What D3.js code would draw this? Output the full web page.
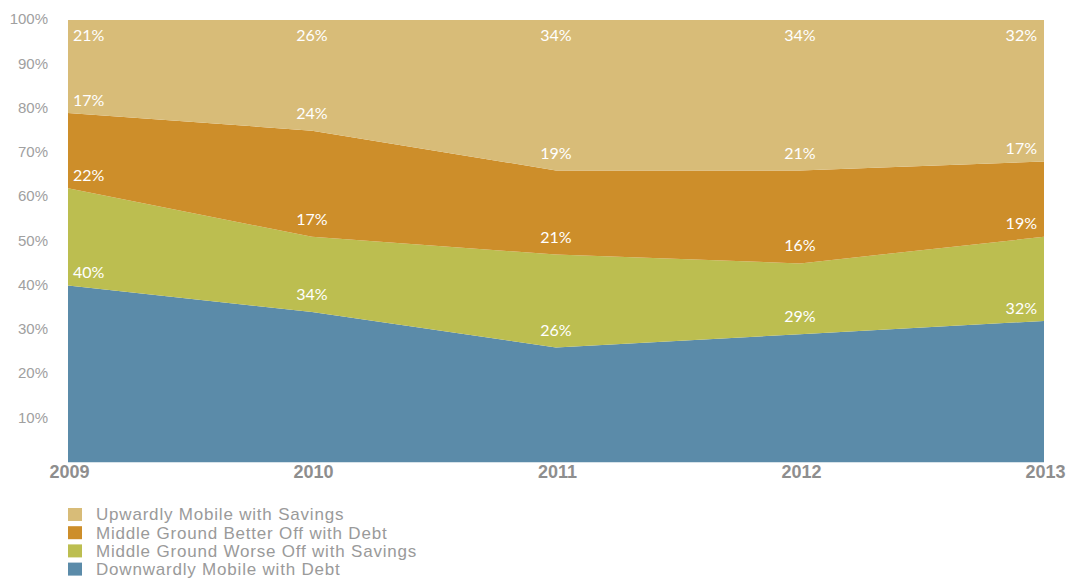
<!DOCTYPE html>
<html>
<head>
<meta charset="utf-8">
<script src="https://cdn.jsdelivr.net/npm/d3@7/dist/d3.min.js"></script>
<style>
  html, body { margin: 0; padding: 0; background: #fff; }
  svg { display: block; }
</style>
</head>
<body>
<svg id="chart" width="1069" height="578"></svg>
<script>
// Shares of households by financial mobility group, 2009–2013
const years = ["2009", "2010", "2011", "2012", "2013"];
const downwardlyMobileDebt = [40, 34, 26, 29, 32];
const worseOffSavings      = [22, 17, 21, 16, 19];
const betterOffDebt        = [17, 24, 19, 21, 17];
const upwardlyMobileSavings = [21, 26, 34, 34, 32];
const yTicks = [10, 20, 30, 40, 50, 60, 70, 80, 90, 100];

const seriesNames = [
  "Downwardly Mobile with Debt",
  "Middle Ground Worse Off with Savings",
  "Middle Ground Better Off with Debt",
  "Upwardly Mobile with Savings"
];
const seriesValues = [downwardlyMobileDebt, worseOffSavings, betterOffDebt, upwardlyMobileSavings];
const colors = ["#5b8ba9", "#bcbe50", "#cd8e2a", "#d8bc78"];

const rows = years.map((yr, i) => {
  const r = { year: yr };
  seriesNames.forEach((n, k) => { r[n] = seriesValues[k][i]; });
  return r;
});

const svg = d3.select("#chart");
const plotLeft = 68, plotRight = 1044, plotTop = 20, plotBottom = 462.5;

const x = d3.scalePoint().domain(years).range([plotLeft, plotRight]);
const y = d3.scaleLinear().domain([0, 100]).range([plotBottom, plotTop]).clamp(true);

const layers = d3.stack().keys(seriesNames)(rows);

svg.append("defs").append("clipPath").attr("id", "plotClip")
  .append("rect").attr("x", plotLeft).attr("y", plotTop)
  .attr("width", plotRight - plotLeft).attr("height", plotBottom - plotTop);

const area = d3.area()
  .x(d => x(d.data.year))
  .y0(d => y(d[0]))
  .y1(d => y(d[1]));

svg.append("g").attr("clip-path", "url(#plotClip)")
  .selectAll("path").data(layers).join("path")
  .attr("d", area)
  .attr("fill", (d, i) => colors[i]);

// y axis labels
const yAxis = d3.axisLeft(y).tickValues(yTicks).tickFormat(d => d + "%").tickSize(0).tickPadding(0);
const gy = svg.append("g").attr("transform", "translate(48,-1)").call(yAxis);
gy.select(".domain").remove();
gy.selectAll("text")
  .attr("fill", "#a0a0a0")
  .style("font-family", "'Liberation Sans', Arial, sans-serif")
  .style("font-size", "15px");

// x axis labels
const xAxis = d3.axisBottom(x).tickSize(0).tickPadding(0);
const gx = svg.append("g").attr("transform", "translate(1,465)").call(xAxis);
gx.select(".domain").remove();
gx.selectAll("text")
  .attr("fill", "#8e8e8e")
  .style("font-family", "'Liberation Sans', Arial, sans-serif")
  .style("font-size", "18px")
  .style("font-weight", "bold");

// value labels for each layer
const labels = svg.append("g")
  .style("font-family", "'Gill Sans', 'Lato', sans-serif")
  .style("font-size", "16px")
  .attr("fill", "#fff");

layers.forEach((layer, k) => {
  layer.forEach((d, i) => {
    const isEdge = i === 0 || i === years.length - 1;
    let cy;
    if (k === layers.length - 1) {
      cy = y(100) + 15;
    } else {
      cy = y(d[1]) - (isEdge ? 13 : 17.5);
    }
    let cx = x(d.data.year), anchor = "middle";
    if (i === 0) { cx += 5; anchor = "start"; }
    if (i === years.length - 1) { cx -= 7; anchor = "end"; }
    labels.append("text")
      .attr("x", cx).attr("y", cy).attr("dy", "0.35em")
      .attr("text-anchor", anchor)
      .text(seriesValues[k][i] + "%");
  });
});

// legend, top series first
const legend = svg.append("g").attr("transform", "translate(68,508)");
const legendOrder = [3, 2, 1, 0];
legendOrder.forEach((k, j) => {
  const g = legend.append("g").attr("transform", `translate(0,${j * 18.2})`);
  g.append("rect").attr("x", 0).attr("y", 0).attr("width", 14).attr("height", 13).attr("fill", colors[k]);
  g.append("text").attr("x", 28).attr("y", 6.5).attr("dy", "0.35em")
    .attr("fill", "#9a9a9a")
    .style("font-family", "'Liberation Sans', Arial, sans-serif")
    .style("font-size", "17px")
    .style("letter-spacing", "0.8px")
    .text(seriesNames[k]);
});
</script>
</body>
</html>
